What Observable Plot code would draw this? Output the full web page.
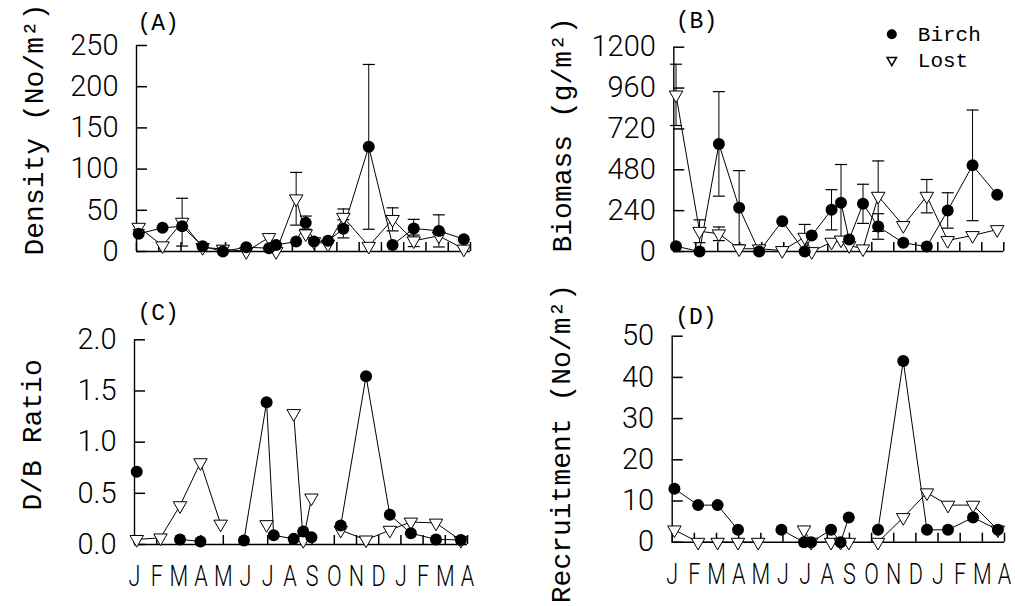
<!DOCTYPE html>
<html><head><meta charset="utf-8">
<script src="https://cdn.jsdelivr.net/npm/d3@7"></script>
<script src="https://cdn.jsdelivr.net/npm/@observablehq/plot@0.6"></script>
<style>
body{margin:0;background:#fff;}
#fig{position:relative;width:1015px;height:606px;overflow:hidden;background:#fff;}
#fig svg{position:absolute;overflow:visible;background:transparent;}
</style></head><body><div id="fig"></div>
<script>
// Month tick labels (Jan of year 1 to Apr of year 2)
const months = ["J","F","M","A","M","J","J","A","S","O","N","D","J","F","M","A"];
// Sampling dates, in months from the first January
const sampleTimes = [0.1,1.17,2.05,2.97,3.88,4.93,5.95,6.27,7.17,7.6,7.97,8.6,9.29,10.43,11.5,12.45,13.58,14.7];
const seriesNames = ["Birch","Lost"];

// (A) Density (No/m2)
const densityBirch   = [21.5,28.7,30.7,6.4,0,5.2,4,8,12,35,12,13,27.5,127,8,28,25,15];
const densityLost    = [29.5,7,35.6,5,3,0,17,0,64,21.5,12,9,41.6,6.4,39,13,19,3];
const densityBirchSE = [null,null,null,null,null,null,null,null,null,8,null,null,11,100,null,11,19.5,null];
const densityLostSE  = [3,null,29,null,4,null,null,null,32,null,null,null,10,null,14,7,null,null];
const densityTicks   = [0,50,100,150,200,250];

// (B) Biomass (g/m2)
const biomassBirch   = [31,0,632,257,0,178,0,94,245,286,70,280,147,51,29,241,506,333];
const biomassLost    = [920,119,104,16,16,6,84,0,55,68,35,16,325,153,325,65,94,129];
const biomassBirchSE = [null,null,307,218,null,null,null,null,118,225,null,115,75,null,null,104,325,null];
const biomassLostSE  = [180,67,40,null,null,null,75,null,null,null,null,null,207,null,98,null,null,null];
const biomassTicks   = [0,240,480,720,960,1200];

// (C) D/B Ratio
const ratioBirch = [0.71,null,0.05,0.03,null,0.04,1.39,0.09,0.055,0.127,0.07,null,0.185,1.645,0.29,0.11,0.05,0.045];
const ratioLost  = [0.05,0.065,0.38,0.8,0.2,null,0.195,null,1.28,0.04,0.455,null,0.14,0.045,0.14,0.22,0.21,0.04];
const ratioTicks = [0,0.5,1,1.5,2];

// (D) Recruitment (No/m2)
const recruitBirch = [13,9,9,3,null,3,0,0,3,0,6,null,3,44,3,3,6,3];
const recruitLost  = [3,0,0,0,0,null,3,0,0,0,0,null,0,6,12,9,9,3];
const recruitTicks = [0,10,20,30,40,50];

const monthIdx = months.map((m, i) => i);
const capSymbol = {draw(ctx, size) { const r = Math.sqrt(size / Math.PI); ctx.moveTo(-r, 0); ctx.lineTo(r, 0); }};
const serif = "Liberation Mono";
const sans = "Roboto";
const Y_TICK = 11, X_TICK = 9;

function panel(cfg) {
  const frameW = cfg.width - cfg.ml - cfg.mr;
  const frameH = cfg.height - cfg.mt - cfg.mb;
  const table = sampleTimes.map((t, i) => ({
    t,
    birch: cfg.birch[i] == null ? NaN : cfg.birch[i],
    lost: cfg.lost[i] == null ? NaN : cfg.lost[i],
    birchSE: cfg.birchSE ? cfg.birchSE[i] : null,
    lostSE: cfg.lostSE ? cfg.lostSE[i] : null
  }));
  const errs = [];
  table.forEach(d => {
    if (d.birchSE != null) errs.push({t: d.t, lo: d.birch - d.birchSE, hi: d.birch + d.birchSE});
    if (d.lostSE != null) errs.push({t: d.t, lo: d.lost - d.lostSE, hi: d.lost + d.lostSE});
  });
  const marks = [
    Plot.axisY(cfg.yTicks, {tickSize: 0, tickPadding: 18, tickFormat: cfg.yFormat, fontSize: 29}),
    Plot.axisX(monthIdx, {tickSize: 0, tickPadding: 20, fontSize: 30,
      tickFormat: cfg.showMonths ? (i => months[i]) : (() => "")}),
    Plot.ruleY([0], {stroke: "black", strokeWidth: 1.4}),
    Plot.ruleX([0], {stroke: "black", strokeWidth: 1.4}),
    // inward ticks
    Plot.tickY(cfg.yTicks, {y: d => d, insetRight: frameW - Y_TICK, stroke: "black", strokeWidth: 1.5}),
    Plot.tickX(monthIdx, {x: d => d, insetTop: frameH - X_TICK, stroke: "black", strokeWidth: 1.5}),
    Plot.ruleX(errs, {x: "t", y1: "lo", y2: "hi", stroke: "black", strokeWidth: 1}),
    Plot.dot(errs, {x: "t", y: "hi", symbol: capSymbol, r: 6, stroke: "black", fill: "none", strokeWidth: 1.2}),
    Plot.dot(errs, {x: "t", y: "lo", symbol: capSymbol, r: 6, stroke: "black", fill: "none", strokeWidth: 1.2}),
    Plot.line(table, {x: "t", y: "lost", stroke: "black", strokeWidth: 1}),
    Plot.line(table, {x: "t", y: "birch", stroke: "black", strokeWidth: 1}),
    Plot.dot(table, {x: "t", y: "lost", symbol: "triangle", rotate: 180, r: 5, fill: "white", stroke: "black", strokeWidth: 1}),
    Plot.dot(table, {x: "t", y: "birch", r: 6, fill: "black", stroke: "none"}),
    Plot.text([cfg.title], {frameAnchor: "top-left", textAnchor: "start", lineAnchor: "middle", dx: cfg.titleDx, dy: cfg.titleDy,
      fontSize: 23, fontFamily: serif, fill: "black"}),
    Plot.text([cfg.yLabel], {frameAnchor: "bottom-left", textAnchor: "start", lineAnchor: "middle", rotate: -90,
      dx: cfg.labelDx, dy: cfg.labelDy, fontSize: 28, fontFamily: serif, fill: "black"})
  ];
  if (cfg.legend) {
    marks.push(
      Plot.dot([seriesNames[0]], {frameAnchor: "top-right", dx: -112, dy: -13, r: 5, fill: "black"}),
      Plot.dot([seriesNames[1]], {frameAnchor: "top-right", dx: -112, dy: 13, r: 3.5, symbol: "triangle", rotate: 180, fill: "white", stroke: "black"}),
      Plot.text([seriesNames[0]], {frameAnchor: "top-right", textAnchor: "start", lineAnchor: "middle", dx: -86, dy: -13, fontSize: 21, fontFamily: serif, fill: "black"}),
      Plot.text([seriesNames[1]], {frameAnchor: "top-right", textAnchor: "start", lineAnchor: "middle", dx: -86, dy: 13, fontSize: 21, fontFamily: serif, fill: "black"})
    );
  }
  const svg = Plot.plot({
    width: cfg.width, height: cfg.height,
    marginLeft: cfg.ml, marginRight: cfg.mr, marginTop: cfg.mt, marginBottom: cfg.mb,
    x: {domain: [0, months.length - 1], label: null},
    y: {domain: [cfg.yTicks[0], cfg.yTicks[cfg.yTicks.length - 1]], label: null},
    style: {fontFamily: sans, fontWeight: 300, color: "black", background: "transparent"},
    marks
  });
  svg.style.left = cfg.left + "px";
  svg.style.top = cfg.top + "px";
  d3.select(svg).selectAll('g[aria-label="x-axis tick label"] text').each(function() {
    const t = this.getAttribute("transform") || "";
    this.setAttribute("transform", t + " scale(0.72,1)");
  });
  document.getElementById("fig").appendChild(svg);
}

panel({left: 0, top: 0, width: 505, height: 290, ml: 136, mr: 35, mt: 45, mb: 39,
  birch: densityBirch, lost: densityLost, birchSE: densityBirchSE, lostSE: densityLostSE,
  yTicks: densityTicks, yFormat: d3.format("d"), showMonths: false,
  title: "(A)", titleDx: 1, titleDy: -23, yLabel: "Density (No/m²)", labelDx: -102, labelDy: 4});
panel({left: 505, top: 0, width: 510, height: 290, ml: 168.3, mr: 11.7, mt: 46.7, mb: 39,
  birch: biomassBirch, lost: biomassLost, birchSE: biomassBirchSE, lostSE: biomassLostSE,
  yTicks: biomassTicks, yFormat: d3.format("d"), showMonths: false, legend: true,
  title: "(B)", titleDx: 2, titleDy: -27, yLabel: "Biomass (g/m²)", labelDx: -112, labelDy: 1});
panel({left: 0, top: 290, width: 505, height: 316, ml: 134, mr: 38, mt: 49.3, mb: 62,
  birch: ratioBirch, lost: ratioLost,
  yTicks: ratioTicks, yFormat: d3.format(".1f"), showMonths: true,
  title: "(C)", titleDx: 3, titleDy: -27, yLabel: "D/B Ratio", labelDx: -102, labelDy: -34});
panel({left: 505, top: 290, width: 510, height: 316, ml: 166.7, mr: 11, mt: 45.7, mb: 64.3,
  birch: recruitBirch, lost: recruitLost,
  yTicks: recruitTicks, yFormat: d3.format("d"), showMonths: true,
  title: "(D)", titleDx: 3, titleDy: -20, yLabel: "Recruitment (No/m²)", labelDx: -111, labelDy: 61});
</script></body></html>
